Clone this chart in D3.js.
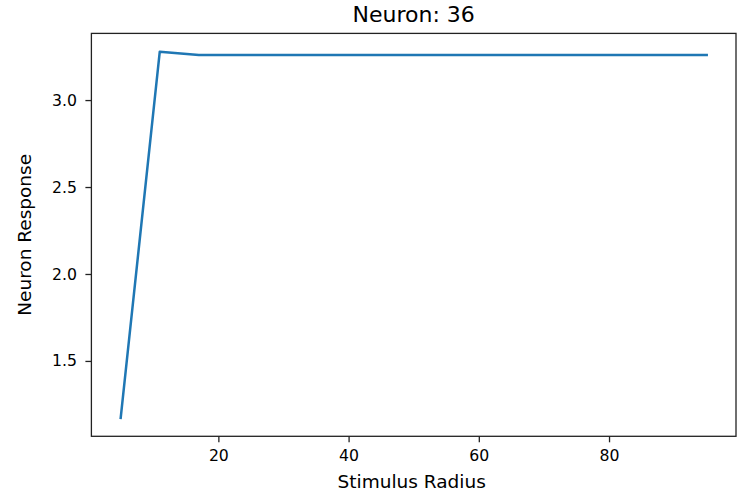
<!DOCTYPE html>
<html>
<head>
<meta charset="utf-8">
<script src="https://cdn.jsdelivr.net/npm/d3@7"></script>
<style>
  body { margin: 0; background: #fff; }
  svg text { font-family: "DejaVu Sans", sans-serif; fill: #000; }
</style>
</head>
<body>
<div id="chart"></div>
<script>
// data
const radius = [5, 11, 17, 23, 29, 35, 41, 47, 53, 59, 65, 71, 77, 83, 89, 95];
const response = [1.172, 3.278, 3.259, 3.259, 3.259, 3.259, 3.259, 3.259,
  3.259, 3.259, 3.259, 3.259, 3.259, 3.259, 3.259, 3.259];
const xTicks = [20, 40, 60, 80];
const yTicks = [1.5, 2.0, 2.5, 3.0];

const data = radius.map((r, i) => ({ r, v: response[i] }));

const width = 739;
const height = 495;
const margin = { top: 33.4, right: 3, bottom: 58.7, left: 91.4 };

const svg = d3.select('#chart')
  .append('svg')
  .attr('width', width)
  .attr('height', height);

const w = width - margin.left - margin.right;
const h = height - margin.top - margin.bottom;

const chart = svg.append('g').attr('transform', `translate(${margin.left}, ${margin.top})`);

// matplotlib style 5% padding around the data
const xMin = d3.min(radius);
const xMax = d3.max(radius);
const xPad = (xMax - xMin) * 0.05;
const yMin = d3.min(response);
const yMax = d3.max(response);
const yPad = (yMax - yMin) * 0.05;

const xScale = d3.scaleLinear().domain([xMin - xPad, xMax + xPad]).range([0, w]);
const yScale = d3.scaleLinear().domain([yMin - yPad, yMax + yPad]).range([h, 0]);

const xAxis = d3.axisBottom(xScale).tickValues(xTicks).tickSize(6).tickPadding(7.5)
  .tickFormat(d3.format('d'));
const yAxis = d3.axisLeft(yScale).tickValues(yTicks).tickSize(6).tickPadding(8.5)
  .tickFormat(d3.format('.1f'));

const gx = chart.append('g').attr('transform', `translate(0, ${h})`).call(xAxis);
const gy = chart.append('g').call(yAxis);

[gx, gy].forEach((g) => {
  g.select('.domain').remove();
  g.selectAll('.tick line').attr('stroke', '#222').attr('stroke-width', 1.3);
  g.selectAll('.tick text').attr('font-size', 15.7).attr('font-family', 'DejaVu Sans').attr('fill', '#222');
});

// frame
chart.append('rect')
  .attr('x', 0)
  .attr('y', 0)
  .attr('width', w)
  .attr('height', h)
  .attr('fill', 'none')
  .attr('stroke', '#222')
  .attr('stroke-width', 1.3);

// the line
const line = d3.line().x((d) => xScale(d.r)).y((d) => yScale(d.v));
chart.append('path')
  .datum(data)
  .attr('d', line)
  .attr('fill', 'none')
  .attr('stroke', '#1f77b4')
  .attr('stroke-width', 2.5)
  .attr('stroke-linecap', 'square')
  .attr('stroke-linejoin', 'round');

// title and labels
svg.append('text')
  .attr('x', margin.left + w / 2)
  .attr('y', 22)
  .attr('text-anchor', 'middle')
  .attr('font-size', 22)
  .attr('fill', '#222')
  .text('Neuron: 36');

svg.append('text')
  .attr('x', margin.left + w / 2 - 2)
  .attr('y', 488)
  .attr('text-anchor', 'middle')
  .attr('font-size', 18.5)
  .attr('fill', '#222')
  .text('Stimulus Radius');

svg.append('text')
  .attr('transform', `translate(31, ${margin.top + h / 2}) rotate(-90)`)
  .attr('text-anchor', 'middle')
  .attr('font-size', 18.5)
  .attr('fill', '#222')
  .text('Neuron Response');
</script>
</body>
</html>
